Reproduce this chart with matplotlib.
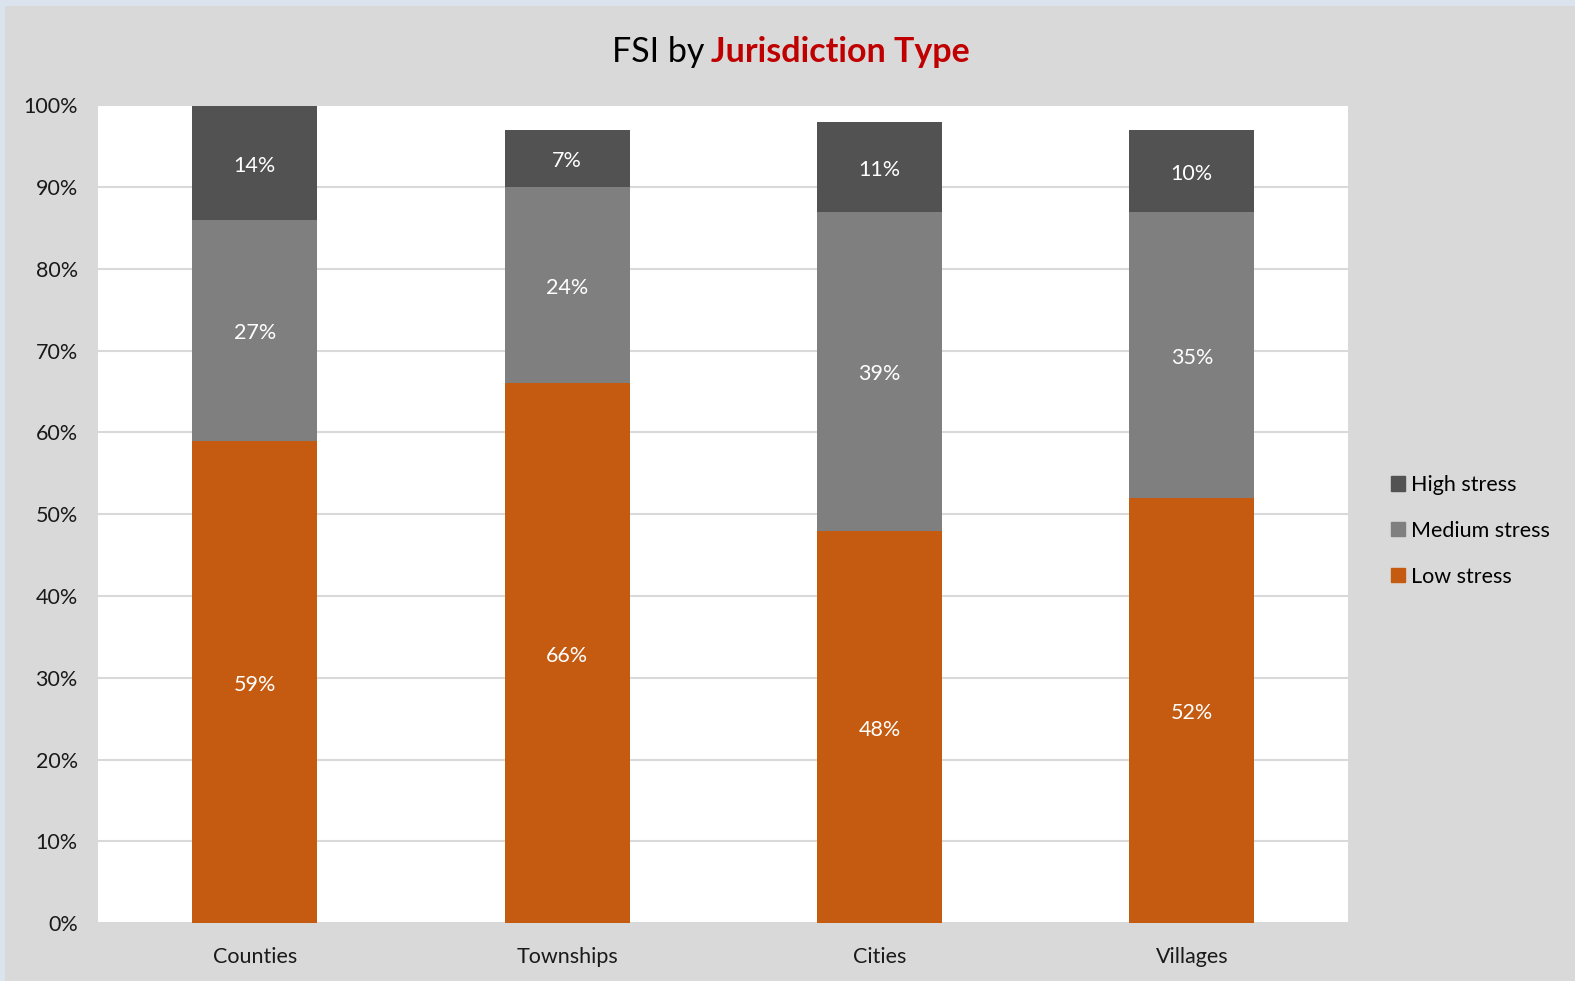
import numpy as np
import matplotlib.pyplot as plt
from matplotlib.patches import Rectangle, Patch

categories = ['Counties', 'Townships', 'Cities', 'Villages']
low = [59, 66, 48, 52]
medium = [27, 24, 39, 35]
high = [14, 7, 11, 10]
labels = ['High stress', 'Medium stress', 'Low stress']
yticks = [0, 10, 20, 30, 40, 50, 60, 70, 80, 90, 100]

c_low = '#C55A11'
c_med = '#7F7F7F'
c_high = '#525252'

plt.rcParams['font.family'] = ['Lato', 'DejaVu Sans']

fig = plt.figure(figsize=(15.75, 9.81), dpi=100)
fig.patch.set_facecolor('#dbe3ef')
fig.patches.append(Rectangle((5/1575, 0), 1, 1 - 6/981, transform=fig.transFigure,
                             facecolor='#d9d9d9', edgecolor='none', zorder=-10))

ax = fig.add_axes([98.5/1575, 1 - 923/981, (1348 - 98.5)/1575, (923 - 105.5)/981])
ax.set_facecolor('white')

x = np.arange(len(categories))
w = 0.4
low_a = np.array(low)
med_a = np.array(medium)
high_a = np.array(high)
ax.bar(x, low_a, w, color=c_low, zorder=3)
ax.bar(x, med_a, w, bottom=low_a, color=c_med, zorder=3)
ax.bar(x, high_a, w, bottom=low_a + med_a, color=c_high, zorder=3)

# data labels in the middle of each segment
for vals, bottoms in [(low_a, np.zeros(4)), (med_a, low_a), (high_a, low_a + med_a)]:
    for xi, v, b in zip(x, vals, bottoms):
        ax.annotate(f'{v}%', (xi, b + v / 2), xytext=(0, -2), textcoords='offset points',
                    ha='center', va='center', color='white', fontsize=15.5, zorder=4)

ax.set_xlim(-0.5, len(categories) - 0.5)
ax.set_ylim(0, 100)
ax.set_yticks(yticks)
ax.set_yticklabels([f'{t}%' for t in yticks], fontsize=15.5, color='#1a1a1a')
ax.set_xticks(x)
ax.set_xticklabels(categories, fontsize=15.5, color='#1a1a1a')
ax.tick_params(length=0)
ax.tick_params(axis='x', pad=17)
ax.tick_params(axis='y', pad=15)
for s in ax.spines.values():
    s.set_visible(False)
ax.yaxis.grid(True, color='#d9d9d9', linewidth=1.5, zorder=0)
ax.set_axisbelow(True)

handles = [Patch(color=c_high), Patch(color=c_med), Patch(color=c_low)]
fig.legend(handles, labels, loc='center left', bbox_to_anchor=(0.871, 0.459), frameon=False,
           fontsize=15.5, handlelength=0.65, handleheight=0.65, handletextpad=0.25, labelspacing=1.2)

fig.text(0.4475, 0.947, 'FSI by', ha='right', va='center', fontsize=24.5, color='black')
fig.text(0.4515, 0.947, 'Jurisdiction Type', ha='left', va='center', fontsize=24.5,
         color='#C00000', fontweight='bold')

fig.savefig('out.png', dpi=100, facecolor=fig.get_facecolor())
